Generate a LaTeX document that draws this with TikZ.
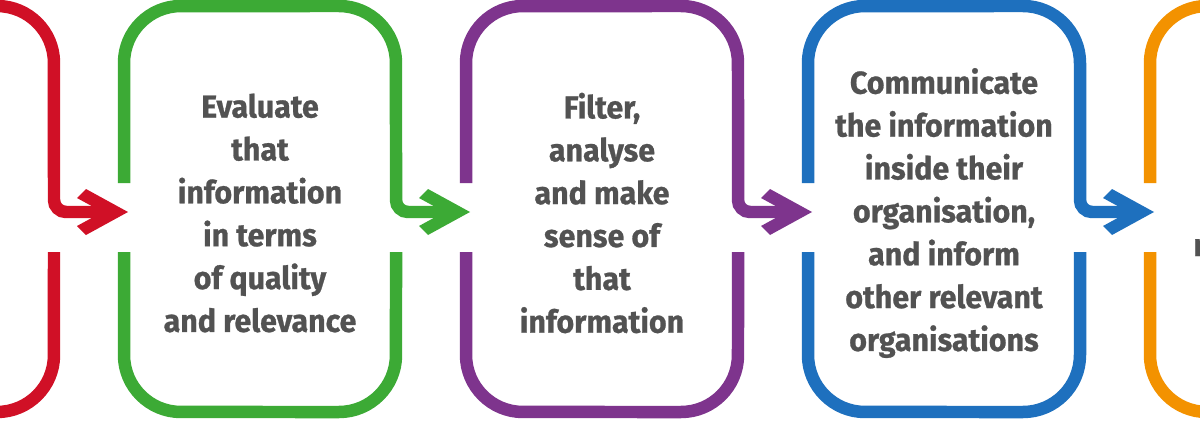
\documentclass[tikz,border=0pt]{standalone}
\usepackage{fontspec}
\setmainfont{Fira Sans}[FakeStretch=0.96]
\definecolor{cred}{RGB}{208,16,38}
\definecolor{cgreen}{RGB}{60,170,53}
\definecolor{cpurple}{RGB}{126,52,141}
\definecolor{cblue}{RGB}{30,112,190}
\definecolor{corange}{RGB}{243,146,0}
\definecolor{textgray}{RGB}{82,82,82}
\tikzset{
  stageline/.style={line width=0.25cm, line cap=butt, line join=miter},
  stagetext/.style={font=\fontsize{18}{24.4}\selectfont\bfseries\addfontfeature{FakeBold=0.8}, text=textgray, align=center, inner sep=0pt},
}
\newcommand\stagebox[3]{%
  \pgfmathsetmacro\R{#2+272}%
  \coordinate (#1-gaptop) at (#2,237);
  \coordinate (#1-gapbot) at (#2,168);
  \coordinate (#1-turn) at (\R+12,208);
  \coordinate (#1-tip) at (\R+74,208);
  \draw[stageline,draw=#3] (#1-gaptop) -- (#2,357)
     arc[start angle=180,end angle=90,radius=1.14cm] -- (\R-57,414)
     arc[start angle=90,end angle=0,radius=1.14cm] -- (\R,220)
     arc[start angle=180,end angle=270,radius=0.24cm] -- (\R+60,208);
  \draw[stageline,draw=#3] (#1-gapbot) -- (#2,65)
     arc[start angle=180,end angle=270,radius=1.14cm] -- (\R-57,8)
     arc[start angle=270,end angle=360,radius=1.14cm] -- (\R,168);
  \fill[#3] (#1-tip) -- (\R+32,231) -- (\R+23,222) -- (\R+48.6,208)
     -- (\R+23,194) -- (\R+32,185) -- cycle;
}
\begin{document}
\begin{tikzpicture}[x=0.02cm,y=0.02cm]
\useasboundingbox (0,0) rectangle (1200,420);
\clip (0,0) rectangle (1200,420);
\fill[white] (0,0) rectangle (1200,420);
\stagebox{red}{-218}{cred}
\stagebox{green}{124}{cgreen}
\stagebox{purple}{466}{cpurple}
\stagebox{blue}{808}{cblue}
\stagebox{orange}{1150}{corange}
\node[stagetext] (tg) at (260,207) {Evaluate\\that\\information\\in terms\\of quality\\and relevance};
\node[stagetext] (tp) at (602,207) {Filter,\\analyse\\and make\\sense of\\that\\information};
\node[stagetext] (tb) at (944,207) {Communicate\\the information\\inside their\\organisation,\\and inform\\other relevant\\organisations};
\node[stagetext, anchor=base west] (to) at (1193,164) {m};
\end{tikzpicture}
\end{document}
